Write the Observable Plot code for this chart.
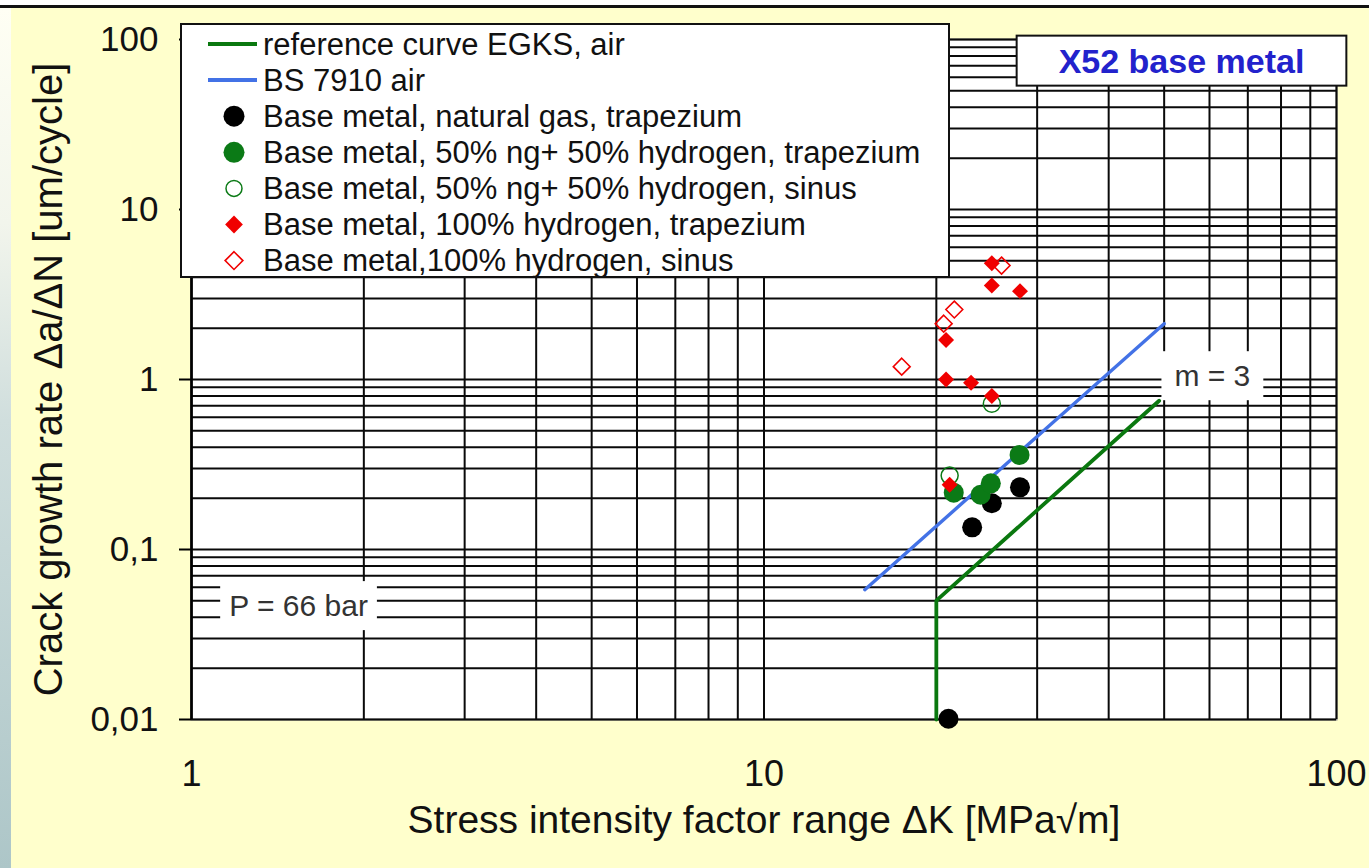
<!DOCTYPE html>
<html><head><meta charset="utf-8">
<script src="https://cdn.jsdelivr.net/npm/d3@7"></script>
<script src="https://cdn.jsdelivr.net/npm/@observablehq/plot@0.6"></script>
<style>
html,body{margin:0;padding:0;}
body{width:1369px;height:868px;background:#FFFFCC;position:relative;overflow:hidden;font-family:"Liberation Sans",Arial,sans-serif;}
#topbar{position:absolute;left:0;top:0;width:1369px;height:5px;background:#fff;}
#topline{position:absolute;left:0;top:5px;width:1369px;height:3px;background:#111;}
#strip{position:absolute;left:0;top:8px;width:11px;height:860px;background:linear-gradient(to bottom,#fffff4 0%,#f2f5ec 25%,#d0dedd 48%,#adc6c8 100%);}
#chart{position:absolute;left:0;top:0;}
</style></head><body>
<div id="topbar"></div><div id="topline"></div><div id="strip"></div>
<div id="chart"></div>
<script>
// ---- axes / ticks ----
const xTicks = [1, 10, 100];
const xTickLabels = ["1", "10", "100"];
const yTicks = [0.01, 0.1, 1, 10, 100];
const yTickLabels = ["0,01", "0,1", "1", "10", "100"];
const xGrid = [1, 2, 3, 4, 5, 6, 7, 8, 9, 10, 20, 30, 40, 50, 60, 70, 80, 90, 100];
const yGrid = [0.01, 0.02, 0.03, 0.04, 0.05, 0.06, 0.07, 0.08, 0.09,
               0.1, 0.2, 0.3, 0.4, 0.5, 0.6, 0.7, 0.8, 0.9,
               1, 2, 3, 4, 5, 6, 7, 8, 9,
               10, 20, 30, 40, 50, 60, 70, 80, 90, 100];
const xTitle = "Stress intensity factor range ΔK [MPa√m]";
const yTitle = "Crack growth rate Δa/ΔN [um/cycle]";
const chartTitle = "X52 base metal";

// ---- reference curves ----
const egksK = [20, 20, 49];
const egksRate = [0.01, 0.05, 0.75];
const bsK = [15, 50];
const bsRate = [0.058, 2.13];

// ---- measured points ----
const ngTrapK = [21, 23.1, 25, 28];
const ngTrapRate = [0.0101, 0.135, 0.187, 0.232];
const mixTrapK = [21.45, 23.9, 24.9, 27.95];
const mixTrapRate = [0.216, 0.21, 0.245, 0.36];
const mixSinK = [21.1, 25];
const mixSinRate = [0.272, 0.72];
const h2TrapK = [21.1, 20.8, 20.8, 23, 25, 25, 25, 28];
const h2TrapRate = [0.24, 1.0, 1.71, 0.957, 0.8, 3.57, 4.83, 3.31];
const h2SinK = [17.4, 20.6, 21.5, 26];
const h2SinRate = [1.19, 2.13, 2.58, 4.68];

// ---- labels ----
const seriesLabels = [
  "reference curve EGKS, air",
  "BS 7910 air",
  "Base metal, natural gas, trapezium",
  "Base metal, 50% ng+ 50% hydrogen, trapezium",
  "Base metal, 50% ng+ 50% hydrogen, sinus",
  "Base metal, 100% hydrogen, trapezium",
  "Base metal,100% hydrogen, sinus"
];
const annotationLabels = ["P = 66 bar", "m = 3"];
const annotationK = [1.538, 60.7];
const annotationRate = [0.0462, 1.04];

const GREEN = "#0a780f", BLUE = "#4372e6", RED = "#f00000", DOTGREEN = "#0b7a16";

const rows = (xs, ys) => xs.map((x, i) => ({x, y: ys[i]}));
const annotations = annotationLabels.map((label, i) => ({label, x: annotationK[i], y: annotationRate[i]}));
const yLabelMap = new Map(yTicks.map((t, i) => [t, yTickLabels[i]]));
const xLabelMap = new Map(xTicks.map((t, i) => [t, xTickLabels[i]]));
const FONT = "Liberation Sans, Arial, sans-serif";

const chart = Plot.plot({
  width: 1369, height: 868,
  marginLeft: 191, marginRight: 33, marginTop: 39, marginBottom: 149,
  x: {type: "log", domain: [1, 100]},
  y: {type: "log", domain: [0.01, 100]},
  style: {background: "transparent", fontFamily: FONT, color: "#111", overflow: "visible"},
  marks: [
    Plot.frame({fill: "white", stroke: "#8a8a8a", strokeWidth: 2}),
    Plot.ruleX(xGrid, {stroke: "#0a0a0a", strokeWidth: 2}),
    Plot.ruleY(yGrid, {stroke: "#0a0a0a", strokeWidth: 2}),
    Plot.ruleX([1], {stroke: "#000", strokeWidth: 2.5}),
    Plot.axisY({ticks: yTicks, tickFormat: d => yLabelMap.get(d), tickSize: 12, tickPadding: 21, fontSize: 35, label: null, stroke: "#000", strokeWidth: 2}),
    Plot.axisX({ticks: xTicks, tickFormat: d => xLabelMap.get(d), tickSize: 0, tickPadding: 41, fontSize: 36, label: null}),
    Plot.text([yTitle], {frameAnchor: "left", dx: -142, rotate: -90, textAnchor: "middle", fontSize: 40, fill: "#111"}),
    Plot.text([xTitle], {frameAnchor: "bottom", dy: 113, textAnchor: "middle", fontSize: 39, fill: "#111"}),
    Plot.line(rows(bsK, bsRate), {x: "x", y: "y", stroke: BLUE, strokeWidth: 3.4}),
    Plot.line(rows(egksK, egksRate), {x: "x", y: "y", stroke: GREEN, strokeWidth: 3.8}),
    Plot.dot(rows(ngTrapK, ngTrapRate), {x: "x", y: "y", r: 10, fill: "#000"}),
    Plot.dot(rows(mixTrapK, mixTrapRate), {x: "x", y: "y", r: 10, fill: DOTGREEN}),
    Plot.dot(rows(mixSinK, mixSinRate), {x: "x", y: "y", r: 8.5, fill: "none", stroke: DOTGREEN, strokeWidth: 1.5}),
    Plot.dot(rows(h2TrapK, h2TrapRate), {x: "x", y: "y", symbol: "diamond2", r: 7.2, fill: RED}),
    Plot.dot(rows(h2SinK, h2SinRate), {x: "x", y: "y", symbol: "diamond2", r: 7.6, fill: "none", stroke: RED, strokeWidth: 1.6}),
    Plot.text(annotations, {x: "x", y: "y", text: "label", fontSize: 30, fill: "#333"}),
    Plot.text([chartTitle], {frameAnchor: "top-right", dx: -155, dy: 9, textAnchor: "middle", fontSize: 34, fontWeight: "bold", fill: "#2222cc"})
  ]
});

document.getElementById("chart").append(chart);

// white boxes behind annotation texts
const boxes = new Map([
  ["P = 66 bar", {px: 9, py: 8, stroke: "none"}],
  ["m = 3", {px: 13, py: 8, stroke: "none"}],
  [chartTitle, {px: 42, py: 6, stroke: "#111"}]
]);
chart.querySelectorAll("text").forEach(t => {
  const cfg = boxes.get(t.textContent);
  if (!cfg) return;
  const b = t.getBBox();
  const r = document.createElementNS("http://www.w3.org/2000/svg", "rect");
  r.setAttribute("x", b.x - cfg.px);
  r.setAttribute("y", b.y - cfg.py);
  r.setAttribute("width", b.width + 2 * cfg.px);
  r.setAttribute("height", b.height + 2 * cfg.py);
  r.setAttribute("fill", "white");
  r.setAttribute("stroke", cfg.stroke);
  r.setAttribute("stroke-width", 2);
  const tr = t.getAttribute("transform");
  if (tr) r.setAttribute("transform", tr);
  t.parentNode.insertBefore(r, t);
});

// legend (drawn inside the plot, top-left)
const legendStyles = [
  {kind: "line", color: GREEN},
  {kind: "line", color: BLUE},
  {kind: "circle", fill: "#000", r: 10.5},
  {kind: "circle", fill: DOTGREEN, r: 10.5},
  {kind: "circle", fill: "none", stroke: DOTGREEN, r: 8},
  {kind: "diamond", fill: RED, r: 8},
  {kind: "diamond", fill: "none", stroke: RED, r: 8}
];
const svg = d3.select(chart);
const lg = svg.append("g").attr("font-family", FONT).attr("font-size", 31).attr("fill", "#111").attr("text-anchor", "start");
lg.append("rect").attr("x", 181).attr("y", 24).attr("width", 768).attr("height", 253)
  .attr("fill", "white").attr("stroke", "#111").attr("stroke-width", 2);
seriesLabels.forEach((label, i) => {
  const cy = 44 + i * 36.1;
  const s = legendStyles[i];
  if (s.kind === "line") {
    lg.append("line").attr("x1", 208).attr("x2", 257).attr("y1", cy).attr("y2", cy)
      .attr("stroke", s.color).attr("stroke-width", 4);
  } else if (s.kind === "circle") {
    lg.append("circle").attr("cx", 234).attr("cy", cy).attr("r", s.r)
      .attr("fill", s.fill).attr("stroke", s.stroke || "none").attr("stroke-width", 1.5);
  } else {
    lg.append("path").attr("transform", `translate(234,${cy})`)
      .attr("d", d3.symbol(d3.symbolDiamond2, s.r * s.r * Math.PI)())
      .attr("fill", s.fill).attr("stroke", s.stroke || "none").attr("stroke-width", 1.6);
  }
  lg.append("text").attr("x", 263).attr("y", cy).attr("dy", "0.35em").attr("text-anchor", "start").text(label);
});
</script></body></html>
